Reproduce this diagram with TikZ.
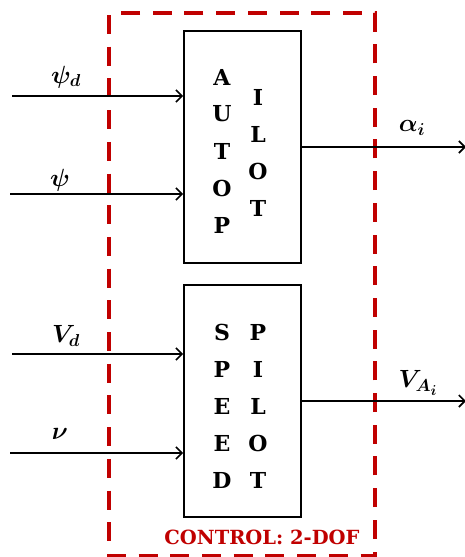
\documentclass[tikz,border=0pt]{standalone}
\usepackage{amsmath, amssymb, bm}
\usepackage{fontspec}
\usepackage{tikz}
\usetikzlibrary{arrows.meta, positioning, calc}
\newfontfamily\slabfont{DejaVu Serif}
\definecolor{framecolor}{HTML}{C00000}

\tikzset{
    blockbox/.style={draw, line width=1.9pt, minimum width=117pt, minimum height=232pt, inner sep=0pt},
    letter/.style={font=\slabfont\bfseries\fontsize{22}{22}\selectfont, inner sep=0pt},
    signal/.style={line width=1.6pt, -{Straight Barb[length=6pt, width=12pt, line width=1.6pt]}},
    siglabel/.style={font=\fontsize{27}{27}\selectfont, inner sep=0pt}
}

\begin{document}
\begin{tikzpicture}[x=1pt, y=-1pt]
    \useasboundingbox (0,0) rectangle (464,557);

    % Controller frame
    \draw[framecolor, line width=4.4pt, dash pattern=on 19pt off 12.7pt, dash phase=-2pt] (109,13) rectangle (375,556);
    \node[font=\slabfont\bfseries\fontsize{19.5}{19.5}\selectfont, text=framecolor, inner sep=0pt] (ctrl) at (262,537) {CONTROL: 2-DOF};

    % Blocks
    \node[blockbox] (auto) at (242.5,147) {};
    \node[blockbox] (speed) at (242.5,401) {};

    % Block letters
    \foreach \ch [count=\i] in {A,U,T,O,P}
        \node[letter] (auto-a\i) at (222,{40+37*\i}) {\ch};
    \foreach \ch [count=\i] in {I,L,O,T}
        \node[letter] (auto-b\i) at (258,{60+37*\i}) {\ch};
    \foreach \ch [count=\i] in {S,P,E,E,D}
        \node[letter] (speed-a\i) at (222,{295+37*\i}) {\ch};
    \foreach \ch [count=\i] in {P,I,L,O,T}
        \node[letter] (speed-b\i) at (258,{295+37*\i}) {\ch};

    % Inputs
    \coordinate (psid) at (12,96);
    \coordinate (psi) at (10,194);
    \coordinate (vd) at (12,354);
    \coordinate (nu) at (10,453);
    \draw[signal] (psid) -- (psid -| auto.west);
    \draw[signal] (psi) -- (psi -| auto.west);
    \draw[signal] (vd) -- (vd -| speed.west);
    \draw[signal] (nu) -- (nu -| speed.west);
    \node[siglabel] (psid-l) at (66,77) {$\bm{\psi_d}$};
    \node[siglabel] (psi-l) at (60,180) {$\bm{\psi}$};
    \node[siglabel] (vd-l) at (66,336) {$\bm{V_d}$};
    \node[siglabel] (nu-l) at (60,434) {$\bm{\nu}$};

    % Outputs
    \coordinate (alpha) at (466,147);
    \coordinate (va) at (466,401);
    \draw[signal] (auto.east) -- (alpha);
    \draw[signal] (speed.east) -- (va);
    \node[siglabel] (alpha-l) at (412,128) {$\bm{\alpha_i}$};
    \node[siglabel] (va-l) at (418,383) {$\bm{V_{A_i}}$};
\end{tikzpicture}
\end{document}
